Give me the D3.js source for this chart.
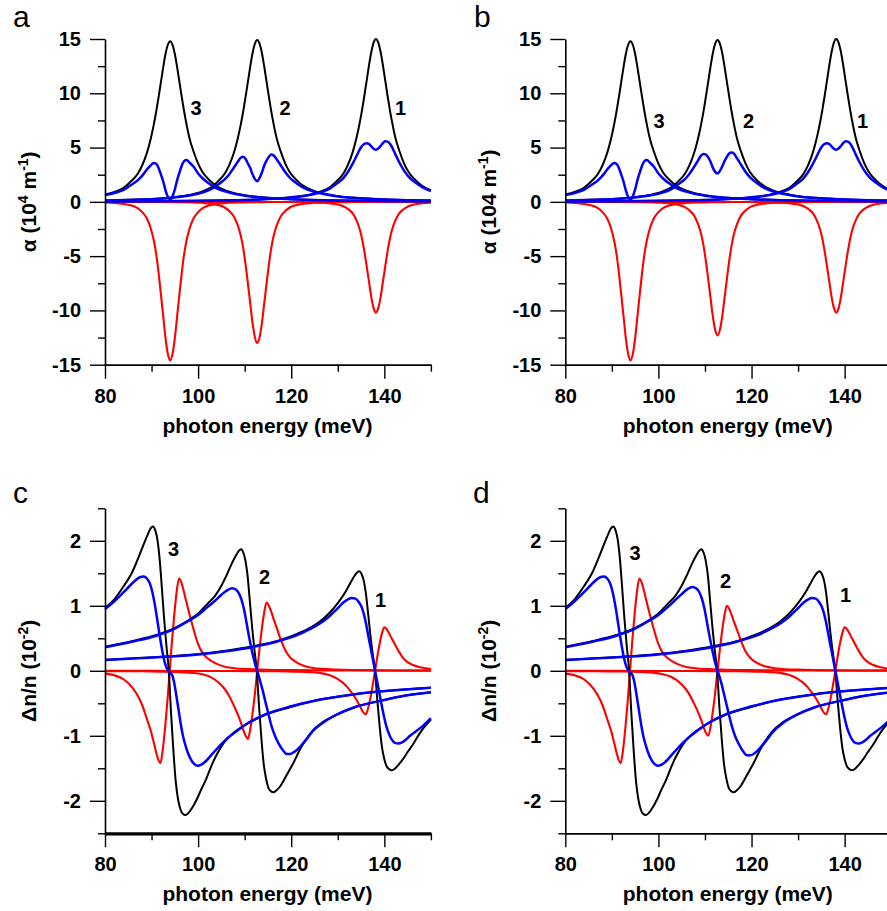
<!DOCTYPE html>
<html>
<head>
<meta charset="utf-8">
<script src="https://cdn.jsdelivr.net/npm/d3@7"></script>
<style>
  body { margin: 0; background: #fff; }
  svg { display: block; }
  text { font-family: "Liberation Sans", Arial, Helvetica, sans-serif; }
</style>
</head>
<body>
<svg id="chart" width="887" height="911"></svg>
<script>
// ---------- axis values ----------
const energyDomain = [80, 150];
const energyMajor = [80, 100, 120, 140];
const energyMinor = [90, 110, 130, 150];
const alphaDomain = [-15, 15];
const alphaMajor = [-15, -10, -5, 0, 5, 10, 15];
const alphaMinor = [-12.5, -7.5, -2.5, 2.5, 7.5, 12.5];
const dnDomain = [-2.5, 2.5];
const dnMajor = [-2, -1, 0, 1, 2];
const dnMinor = [-2.5, -1.5, -0.5, 0.5, 1.5, 2.5];

// ---------- absorption (10^4 m^-1), transition 3 ----------
const xAlpha3 = [80, 82, 84, 85.5, 87, 88, 89, 89.8, 90.5, 91, 91.5, 92, 92.5, 93, 93.5, 94, 94.5, 95, 95.5, 96, 96.5, 97, 97.5, 98.2, 99, 100, 101, 102.5, 104, 106, 108, 111, 115, 120, 126, 134, 144, 150];
const alphaBlack3 = [0.68, 0.92, 1.30, 1.85, 2.56, 3.37, 4.51, 5.77, 7.16, 8.32, 9.62, 11.0, 12.39, 13.62, 14.47, 14.8, 14.47, 13.62, 12.39, 11.0, 9.62, 8.32, 7.16, 5.77, 4.66, 3.52, 2.71, 1.97, 1.44, 1.04, 0.78, 0.55, 0.37, 0.25, 0.16, 0.11, 0.07, 0.056];
const alphaRed3 = [-0.06, -0.10, -0.19, -0.32, -0.58, -0.95, -1.53, -2.41, -3.58, -4.82, -6.50, -8.47, -10.51, -12.56, -14.02, -14.6, -14.02, -12.56, -10.51, -8.47, -6.50, -4.82, -3.58, -2.41, -1.53, -0.95, -0.58, -0.32, -0.19, -0.10, -0.06, -0.04, -0.02, -0.015, -0.01, -0.01, -0.01, -0.01];
const alphaBlue3 = [0.62, 0.82, 1.11, 1.53, 1.98, 2.42, 2.98, 3.36, 3.58, 3.50, 3.12, 2.53, 1.88, 1.06, 0.45, 0.2, 0.5, 1.15, 2.0, 2.7, 3.35, 3.75, 3.85, 3.6, 3.25, 2.62, 2.15, 1.65, 1.25, 0.94, 0.72, 0.51, 0.35, 0.24, 0.15, 0.1, 0.06, 0.05];

// ---------- absorption, transition 2 ----------
const xAlpha2 = [80, 86.7, 91.7, 95.7, 98.7, 100.7, 102.7, 104.2, 105.7, 106.7, 107.7, 108.5, 109.2, 109.7, 110.2, 110.7, 111.2, 111.7, 112.2, 112.7, 113.2, 113.7, 114.2, 114.7, 115.2, 115.7, 116.2, 116.9, 117.7, 118.7, 119.7, 121.2, 122.7, 124.7, 126.7, 129.7, 133.7, 138.7, 144.7, 150];
const alphaBlack2 = [0.13, 0.21, 0.31, 0.48, 0.69, 0.92, 1.31, 1.86, 2.58, 3.40, 4.54, 5.81, 7.21, 8.37, 9.69, 11.07, 12.47, 13.71, 14.57, 14.9, 14.57, 13.71, 12.47, 11.07, 9.69, 8.37, 7.21, 5.81, 4.69, 3.55, 2.73, 1.98, 1.45, 1.04, 0.79, 0.55, 0.37, 0.25, 0.16, 0.125];
const alphaRed2a = [-0.01, -0.013, -0.02, -0.03, -0.05, -0.09, -0.17, -0.29, -0.52, -0.85, -1.37, -2.15, -3.19, -4.29, -5.79, -7.54, -9.36, -11.18, -12.48, -13.0, -12.48, -11.18, -9.36, -7.54, -5.79, -4.29, -3.19, -2.15, -1.37, -0.85, -0.52, -0.29, -0.17, -0.09, -0.05, -0.03, -0.02, -0.013, -0.01, -0.01];
const alphaBlue2a = [0.12, 0.2, 0.29, 0.45, 0.64, 0.83, 1.14, 1.57, 2.06, 2.55, 3.17, 3.68, 4.08, 4.15, 3.95, 3.53, 3.11, 2.53, 2.09, 1.9, 2.2, 2.7, 3.35, 3.8, 4.15, 4.35, 4.28, 3.9, 3.4, 2.75, 2.22, 1.7, 1.28, 0.95, 0.74, 0.52, 0.35, 0.24, 0.15, 0.12];
const alphaRed2b = [-0.01, -0.012, -0.02, -0.03, -0.05, -0.09, -0.16, -0.27, -0.49, -0.80, -1.29, -2.03, -3.01, -4.06, -5.47, -7.13, -8.86, -10.58, -11.81, -12.3, -11.81, -10.58, -8.86, -7.13, -5.47, -4.06, -3.01, -2.03, -1.29, -0.80, -0.49, -0.27, -0.16, -0.09, -0.05, -0.03, -0.02, -0.012, -0.01, -0.01];
const alphaBlue2b = [0.12, 0.2, 0.29, 0.45, 0.64, 0.83, 1.15, 1.59, 2.09, 2.6, 3.25, 3.8, 4.28, 4.4, 4.35, 4.1, 3.7, 3.13, 2.76, 2.6, 2.85, 3.25, 3.75, 4.15, 4.45, 4.55, 4.45, 4.0, 3.45, 2.78, 2.25, 1.72, 1.29, 0.95, 0.74, 0.52, 0.35, 0.24, 0.15, 0.12];

// ---------- absorption, transition 1 ----------
const xAlpha1 = [80, 88.2, 98.2, 106.2, 112.2, 117.2, 121.2, 124.2, 126.2, 128.2, 129.7, 131.2, 132.2, 133.2, 134, 134.7, 135.2, 135.7, 136.2, 136.7, 137.2, 137.7, 138.2, 138.7, 139.2, 139.7, 140.2, 140.7, 141.2, 141.7, 142.4, 143.2, 144.2, 145.2, 146.7, 148.2, 150];
const alphaBlack1 = [0.04, 0.06, 0.09, 0.14, 0.21, 0.32, 0.48, 0.69, 0.93, 1.32, 1.88, 2.60, 3.42, 4.58, 5.85, 7.26, 8.43, 9.75, 11.15, 12.56, 13.8, 14.67, 15.0, 14.67, 13.8, 12.56, 11.15, 9.75, 8.43, 7.26, 5.85, 4.73, 3.57, 2.75, 2.0, 1.46, 1.08];
const alphaRed1 = [-0.01, -0.01, -0.01, -0.01, -0.01, -0.015, -0.025, -0.04, -0.07, -0.13, -0.22, -0.41, -0.66, -1.07, -1.68, -2.50, -3.37, -4.54, -5.92, -7.34, -8.77, -9.79, -10.2, -9.79, -8.77, -7.34, -5.92, -4.54, -3.37, -2.50, -1.68, -1.07, -0.66, -0.41, -0.22, -0.13, -0.08];
const alphaBlue1 = [0.03, 0.05, 0.08, 0.13, 0.2, 0.31, 0.46, 0.65, 0.86, 1.19, 1.66, 2.19, 2.77, 3.52, 4.2, 4.82, 5.15, 5.35, 5.4, 5.32, 5.1, 4.9, 4.8, 4.92, 5.15, 5.42, 5.58, 5.55, 5.35, 5.0, 4.35, 3.65, 2.9, 2.33, 1.78, 1.33, 1.0];

// ---------- refractive index change (10^-2), black ----------
const xDnBlack3 = [80, 82, 84, 86, 87.5, 88.5, 89.2, 89.8, 90.3, 90.8, 91.3, 91.7, 92.2, 92.7, 93.2, 93.7, 94.2, 94.7, 95.2, 95.7, 96.2, 96.7, 97.3, 97.9, 98.7, 99.7, 100.7, 101.7, 102.7, 103.7, 105.7, 107.7, 110.7, 114.7, 119.7, 125.7, 131.7, 138.7, 143.7, 150];
const dnBlack3 = [0.97, 1.10, 1.30, 1.54, 1.80, 1.98, 2.10, 2.19, 2.22, 2.16, 2.0, 1.75, 1.29, 0.80, 0.38, 0, -0.67, -1.24, -1.71, -1.98, -2.13, -2.2, -2.22, -2.19, -2.11, -1.98, -1.82, -1.67, -1.49, -1.33, -1.09, -0.95, -0.81, -0.67, -0.56, -0.45, -0.38, -0.32, -0.29, -0.26];
const xDnBlack2 = [80, 86, 91, 95, 98, 100, 102, 103.5, 105, 106.3, 107.3, 108.1, 108.7, 109.2, 109.7, 110.2, 110.6, 111.1, 111.6, 112.1, 112.6, 113.1, 113.6, 114.1, 114.6, 115.1, 115.6, 116.2, 116.8, 117.6, 118.6, 119.6, 120.6, 121.6, 122.6, 124.6, 126.6, 129.6, 133.6, 138.6, 144.6, 150];
const dnBlack2 = [0.37, 0.46, 0.55, 0.66, 0.78, 0.88, 1.03, 1.14, 1.31, 1.50, 1.66, 1.77, 1.84, 1.87, 1.82, 1.68, 1.48, 1.08, 0.67, 0.32, 0, -0.56, -1.05, -1.44, -1.66, -1.80, -1.85, -1.87, -1.84, -1.78, -1.66, -1.53, -1.40, -1.25, -1.12, -0.92, -0.80, -0.68, -0.56, -0.47, -0.38, -0.33];
const xDnBlack1 = [80, 88, 93, 100, 106, 112, 117, 121, 124, 126, 128.2, 130.2, 131.7, 132.7, 133.5, 134.1, 134.6, 135.1, 135.6, 136, 136.5, 137, 137.5, 138, 138.5, 139, 139.5, 140, 140.5, 141, 141.6, 142.2, 143, 144, 145, 146, 147, 148, 150];
const dnBlack1 = [0.17, 0.20, 0.22, 0.26, 0.31, 0.38, 0.46, 0.56, 0.66, 0.75, 0.89, 1.06, 1.22, 1.35, 1.45, 1.51, 1.53, 1.49, 1.38, 1.21, 0.89, 0.55, 0.26, 0, -0.46, -0.86, -1.18, -1.36, -1.47, -1.51, -1.53, -1.51, -1.45, -1.36, -1.25, -1.15, -1.03, -0.92, -0.75];

// ---------- refractive index change, red ----------
const xDnRed3 = [80, 82, 84, 86, 87, 88, 88.9, 89.9, 90.4, 90.9, 91.4, 91.9, 92.4, 92.9, 93.4, 93.9, 94.4, 94.9, 95.4, 95.9, 96.4, 96.9, 97.4, 97.9, 98.9, 99.9, 100.9, 101.9, 103.9, 105.9, 107.9, 110.9, 114.9, 119.9, 125.9, 133.9, 143.9, 150];
const dnRed3 = [-0.043, -0.07, -0.13, -0.27, -0.38, -0.53, -0.72, -0.94, -1.08, -1.23, -1.36, -1.42, -1.22, -0.88, -0.47, 0, 0.47, 0.88, 1.22, 1.42, 1.36, 1.23, 1.08, 0.94, 0.67, 0.43, 0.28, 0.2, 0.11, 0.06, 0.04, 0.026, 0.016, 0.01, 0.007, 0.005, 0.003, 0.003];
const xDnRed2 = [80, 86.7, 91.7, 95.7, 98.7, 100.7, 102.7, 104.7, 105.7, 106.7, 107.7, 108.7, 109.2, 109.7, 110.2, 110.7, 111.2, 111.7, 112.2, 112.7, 113.2, 113.7, 114.2, 114.7, 115.2, 115.7, 116.2, 116.7, 117.7, 118.7, 119.7, 120.7, 122.7, 124.7, 126.7, 129.7, 133.7, 138.7, 144.7, 150];
const dnRed2c = [-0.005, -0.007, -0.012, -0.019, -0.032, -0.05, -0.097, -0.2, -0.28, -0.39, -0.54, -0.70, -0.80, -0.91, -1.0, -1.05, -0.9, -0.65, -0.35, 0, 0.35, 0.65, 0.9, 1.05, 1.0, 0.91, 0.80, 0.70, 0.49, 0.32, 0.21, 0.15, 0.079, 0.044, 0.029, 0.019, 0.012, 0.007, 0.005, 0.004];
const dnRed2d = [-0.005, -0.007, -0.011, -0.018, -0.03, -0.048, -0.092, -0.19, -0.265, -0.37, -0.51, -0.665, -0.76, -0.865, -0.955, -1.0, -0.86, -0.62, -0.33, 0, 0.33, 0.62, 0.86, 1.0, 0.955, 0.865, 0.76, 0.665, 0.47, 0.3, 0.2, 0.14, 0.075, 0.042, 0.028, 0.018, 0.011, 0.007, 0.005, 0.004];
const xDnRed1 = [80, 88, 98, 106, 112, 117, 121, 124, 126, 128, 130, 131, 132, 133, 134, 134.5, 135, 135.5, 136, 136.5, 137, 137.5, 138, 138.5, 139, 139.5, 140, 140.5, 141, 141.5, 142, 143, 144, 145, 146, 148, 150];
const dnRed1 = [-0.001, -0.0013, -0.002, -0.0033, -0.005, -0.007, -0.012, -0.02, -0.032, -0.062, -0.127, -0.178, -0.248, -0.34, -0.445, -0.51, -0.58, -0.64, -0.67, -0.58, -0.42, -0.22, 0, 0.22, 0.42, 0.58, 0.67, 0.64, 0.58, 0.51, 0.445, 0.31, 0.2, 0.134, 0.094, 0.05, 0.028];

// ---------- refractive index change, blue ----------
const xDnBlue3 = [80, 82, 84, 85.5, 86.5, 87.5, 88.3, 89, 89.6, 90.2, 90.8, 91.3, 91.8, 92.3, 92.8, 93.2, 93.6, 94.1, 94.5, 94.9, 95.3, 95.8, 96.3, 96.8, 97.3, 97.8, 98.5, 99.3, 100, 100.8, 101.8, 102.9, 104.3, 105.8, 107.3, 108.8, 110.8, 114.8, 119.8, 125.8, 131.8, 138.8, 143.8, 150];
const dnBlue3 = [0.95, 1.07, 1.21, 1.32, 1.39, 1.44, 1.45, 1.42, 1.35, 1.2, 0.98, 0.75, 0.52, 0.31, 0.14, 0.05, 0.0, -0.03, -0.08, -0.2, -0.37, -0.6, -0.83, -1.02, -1.15, -1.26, -1.37, -1.44, -1.46, -1.44, -1.38, -1.29, -1.18, -1.07, -0.98, -0.9, -0.8, -0.66, -0.55, -0.45, -0.38, -0.32, -0.29, -0.26];
const xDnBlue2 = [80, 86, 91, 95, 98, 100, 102, 103.5, 105, 106.3, 107.3, 108.1, 108.7, 109.3, 109.9, 110.4, 110.9, 111.4, 111.9, 112.4, 112.9, 113.4, 114, 114.6, 115.1, 115.8, 116.5, 117.3, 118.3, 119, 119.8, 120.8, 121.9, 123.2, 124.6, 126.6, 129.6, 133.6, 138.6, 144.6, 150];
const dnBlue2c = [0.36, 0.45, 0.54, 0.65, 0.77, 0.86, 0.98, 1.07, 1.17, 1.24, 1.27, 1.25, 1.2, 1.1, 0.93, 0.74, 0.54, 0.36, 0.2, 0.06, -0.05, -0.18, -0.34, -0.52, -0.66, -0.86, -1.0, -1.12, -1.23, -1.28, -1.28, -1.24, -1.17, -1.06, -0.93, -0.81, -0.68, -0.56, -0.47, -0.38, -0.33];
const dnBlue2d = [0.36, 0.45, 0.54, 0.65, 0.77, 0.86, 0.98, 1.08, 1.18, 1.26, 1.29, 1.27, 1.22, 1.12, 0.95, 0.76, 0.56, 0.38, 0.21, 0.07, -0.04, -0.16, -0.33, -0.51, -0.66, -0.86, -1.01, -1.13, -1.25, -1.3, -1.3, -1.26, -1.18, -1.07, -0.94, -0.81, -0.68, -0.56, -0.47, -0.38, -0.33];
const xDnBlue1 = [80, 88, 93, 100, 106, 112, 117, 121, 124, 126, 128.2, 129.8, 131.2, 132.2, 133, 133.8, 134.5, 135, 135.5, 136, 136.5, 136.9, 137.5, 138, 138.5, 139.1, 139.8, 140.5, 141, 141.6, 142.3, 143, 143.8, 144.6, 145.5, 146.8, 148.4, 150];
const dnBlue1 = [0.165, 0.195, 0.215, 0.25, 0.3, 0.37, 0.45, 0.54, 0.64, 0.72, 0.84, 0.95, 1.05, 1.1, 1.12, 1.11, 1.06, 1.0, 0.9, 0.75, 0.56, 0.41, 0.19, 0.0, -0.18, -0.41, -0.66, -0.87, -0.97, -1.06, -1.11, -1.12, -1.1, -1.06, -1.0, -0.93, -0.84, -0.73];

// ---------- text ----------
const xTitle = "photon energy (meV)";
const transitionNames = ["3", "2", "1"];

// ---------- layout ----------
const svg = d3.select("#chart");
const plotWidth = 325.9;
const colLeft = [105, 565.3];
const alphaRow = { top: 39, bottom: 364.7 };
const dnRow = { top: 508.3, bottom: 833.3 };
const colors = { black: "#000000", red: "#ff0000", blue: "#0000ff" };
const widths = { black: 2.0, red: 2.1, blue: 2.5 };

const pair = (xs, ys) => xs.map((x, i) => [x, ys[i]]);

const panels = [
  {
    letter: "a", letterPos: [13, 27], left: colLeft[0], row: alphaRow,
    domain: alphaDomain, major: alphaMajor, minor: alphaMinor,
    yTitle: [["α (10"], ["4", true], [" m"], ["-1", true], [")"]],
    series: {
      red: [pair(xAlpha3, alphaRed3), pair(xAlpha2, alphaRed2a), pair(xAlpha1, alphaRed1)],
      black: [pair(xAlpha3, alphaBlack3), pair(xAlpha2, alphaBlack2), pair(xAlpha1, alphaBlack1)],
      blue: [pair(xAlpha3, alphaBlue3), pair(xAlpha2, alphaBlue2a), pair(xAlpha1, alphaBlue1)]
    },
    labels: [[190.5, 115], [279.5, 115], [395, 115]],
    axisWidth: 1.8
  },
  {
    letter: "b", letterPos: [474, 27], left: colLeft[1], row: alphaRow,
    domain: alphaDomain, major: alphaMajor, minor: alphaMinor,
    yTitle: [["α (104 m"], ["-1", true], [")"]],
    series: {
      red: [pair(xAlpha3, alphaRed3), pair(xAlpha2, alphaRed2b), pair(xAlpha1, alphaRed1)],
      black: [pair(xAlpha3, alphaBlack3), pair(xAlpha2, alphaBlack2), pair(xAlpha1, alphaBlack1)],
      blue: [pair(xAlpha3, alphaBlue3), pair(xAlpha2, alphaBlue2b), pair(xAlpha1, alphaBlue1)]
    },
    labels: [[653.5, 128], [743, 128], [857, 128]],
    axisWidth: 1.8
  },
  {
    letter: "c", letterPos: [13, 503], left: colLeft[0], row: dnRow,
    domain: dnDomain, major: dnMajor, minor: dnMinor,
    yTitle: [["Δn/n (10"], ["-2", true], [")"]],
    series: {
      red: [pair(xDnRed3, dnRed3), pair(xDnRed2, dnRed2c), pair(xDnRed1, dnRed1)],
      black: [pair(xDnBlack3, dnBlack3), pair(xDnBlack2, dnBlack2), pair(xDnBlack1, dnBlack1)],
      blue: [pair(xDnBlue3, dnBlue3), pair(xDnBlue2, dnBlue2c), pair(xDnBlue1, dnBlue1)]
    },
    labels: [[168, 556], [259, 584], [375, 606.5]],
    axisWidth: 3.2
  },
  {
    letter: "d", letterPos: [473, 503], left: colLeft[1], row: dnRow,
    domain: dnDomain, major: dnMajor, minor: dnMinor,
    yTitle: [["Δn/n (10"], ["-2", true], [")"]],
    series: {
      red: [pair(xDnRed3, dnRed3), pair(xDnRed2, dnRed2d), pair(xDnRed1, dnRed1)],
      black: [pair(xDnBlack3, dnBlack3), pair(xDnBlack2, dnBlack2), pair(xDnBlack1, dnBlack1)],
      blue: [pair(xDnBlue3, dnBlue3), pair(xDnBlue2, dnBlue2d), pair(xDnBlue1, dnBlue1)]
    },
    labels: [[629.5, 560], [720, 587.5], [840, 601.5]],
    axisWidth: 1.8
  }
];

panels.forEach(p => {
  const x = d3.scaleLinear().domain(energyDomain).range([p.left, p.left + plotWidth]);
  const y = d3.scaleLinear().domain(p.domain).range([p.row.bottom, p.row.top]);
  const g = svg.append("g");

  // panel letter
  g.append("text")
    .attr("x", p.letterPos[0]).attr("y", p.letterPos[1])
    .attr("font-size", 30).attr("fill", "#000")
    .text(p.letter);

  // curves: red first, then black, blue on top
  const line = d3.line().x(d => x(d[0])).y(d => y(d[1])).curve(d3.curveMonotoneX);
  ["red", "black", "blue"].forEach(key => {
    g.selectAll(null).data(p.series[key]).enter().append("path")
      .attr("d", line)
      .attr("fill", "none")
      .attr("stroke", colors[key])
      .attr("stroke-width", widths[key])
      .attr("stroke-linejoin", "round");
  });

  // y axis (major + minor)
  const yAxis = g.append("g").attr("transform", `translate(${p.left},0)`)
    .call(d3.axisLeft(y).tickValues(p.major).tickSize(15).tickSizeOuter(0)
      .tickPadding(9).tickFormat(d => String(d)));
  const yMinor = g.append("g").attr("transform", `translate(${p.left},0)`)
    .call(d3.axisLeft(y).tickValues(p.minor).tickSize(7).tickSizeOuter(0).tickFormat(""));
  yMinor.select(".domain").remove();

  // x axis (major + minor)
  const xAxis = g.append("g").attr("transform", `translate(0,${p.row.bottom})`)
    .call(d3.axisBottom(x).tickValues(energyMajor).tickSize(14).tickSizeOuter(0)
      .tickPadding(9.8).tickFormat(d => String(d)));
  const xMinor = g.append("g").attr("transform", `translate(0,${p.row.bottom})`)
    .call(d3.axisBottom(x).tickValues(energyMinor).tickSize(7).tickSizeOuter(0).tickFormat(""));
  xMinor.select(".domain").remove();

  [yAxis, yMinor, xAxis, xMinor].forEach(a => {
    a.selectAll("line").attr("stroke", "#000").attr("stroke-width", 1.4);
    a.selectAll("text").attr("font-size", 20).attr("font-weight", "bold")
      .attr("fill", "#000").attr("font-family", null);
    a.attr("font-family", null);
  });
  yAxis.select(".domain").attr("stroke", "#000").attr("stroke-width", 1.6);
  xAxis.select(".domain").attr("stroke", "#000").attr("stroke-width", p.axisWidth);

  // axis titles
  g.append("text")
    .attr("x", p.left + plotWidth / 2 - 0.5).attr("y", p.row.bottom + 68)
    .attr("text-anchor", "middle").attr("font-size", 21).attr("font-weight", "bold")
    .text(xTitle);

  const yt = g.append("text")
    .attr("transform", `translate(${p.left - 69},${(p.row.top + p.row.bottom) / 2}) rotate(-90)`)
    .attr("text-anchor", "middle").attr("font-size", 21).attr("font-weight", "bold");
  let raised = false;
  p.yTitle.forEach(([t, sup]) => {
    const ts = yt.append("tspan").text(t);
    if (sup && !raised) { ts.attr("dy", -8).attr("font-size", 14); raised = true; }
    else if (sup) { ts.attr("font-size", 14); }
    else if (raised) { ts.attr("dy", 8); raised = false; }
  });

  // transition labels
  g.selectAll(null).data(p.labels).enter().append("text")
    .attr("x", d => d[0]).attr("y", d => d[1])
    .attr("font-size", 20).attr("font-weight", "bold")
    .text((d, i) => transitionNames[i]);
});
</script>
</body>
</html>
